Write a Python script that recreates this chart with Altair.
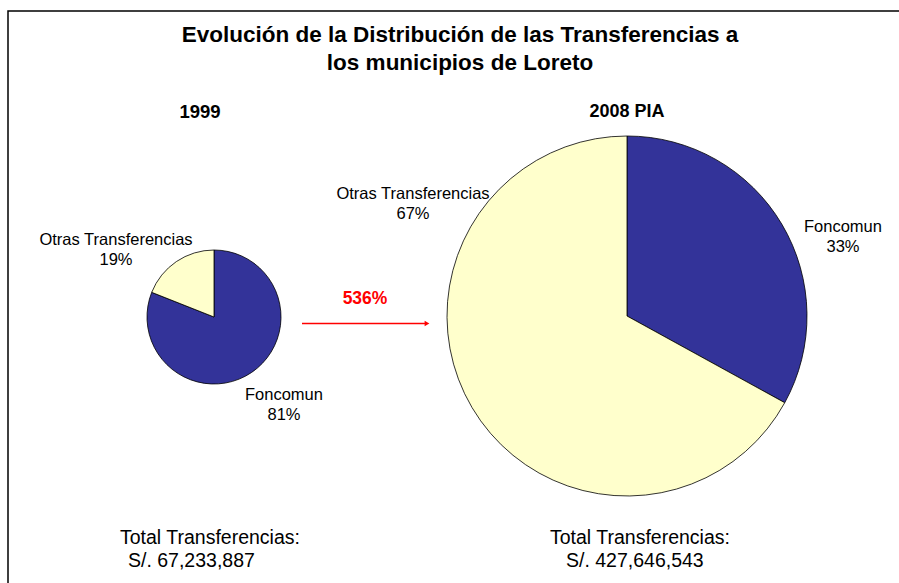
import altair as alt
import pandas as pd

# ---- data ----
categorias = ["Foncomun", "Otras Transferencias"]
orden = [1, 2]
pct_1999 = [81, 19]
pct_2008 = [33, 67]
anios = ["1999", "2008 PIA"]
totales = [67233887, 427646543]
colores = ["#333399", "#FFFFCC"]

titulo = ["Evolución de la Distribución de las Transferencias a", "los municipios de Loreto"]

FONT = "Liberation Sans"

df1 = pd.DataFrame({"cat": categorias, "pct": pct_1999, "ord": orden})
df2 = pd.DataFrame({"cat": categorias, "pct": pct_2008, "ord": orden})
df1["lab"] = df1["cat"] + "\n" + df1["pct"].astype(str) + "%"
df2["lab"] = df2["cat"] + "\n" + df2["pct"].astype(str) + "%"

color_scale = alt.Scale(domain=categorias, range=colores)


def pie(df, cx, cy, r):
    return alt.Chart(df).mark_arc(radius=r, stroke="black", strokeWidth=0.8).encode(
        theta=alt.Theta("pct:Q", stack=True),
        color=alt.Color("cat:N", scale=color_scale, legend=None),
        order=alt.Order("ord:Q"),
        x=alt.value(cx),
        y=alt.value(cy),
    )


def label(df, cat, x, y):
    return alt.Chart(df).transform_filter(alt.datum.cat == cat).mark_text(
        font=FONT, fontSize=16.5, align="center", baseline="alphabetic",
        lineBreak="\n", lineHeight=20, color="black"
    ).encode(text="lab:N", x=alt.value(x), y=alt.value(y))


def text(s, x, y, size, bold=False, color="black", align="center"):
    return alt.Chart(pd.DataFrame({"t": [s]})).mark_text(
        font=FONT, fontSize=size, fontWeight="bold" if bold else "normal",
        align=align, baseline="alphabetic", color=color
    ).encode(text="t:N", x=alt.value(x), y=alt.value(y))


border = alt.Chart(pd.DataFrame({"a": [0]})).mark_rect(
    fill=None, stroke="black", strokeWidth=1.5
).encode(x=alt.value(8), x2=alt.value(960), y=alt.value(11), y2=alt.value(640))

arrow_line = alt.Chart(pd.DataFrame({"a": [0]})).mark_rule(
    color="red", strokeWidth=1.5
).encode(x=alt.value(302), x2=alt.value(426), y=alt.value(323.5))
arrow_head = alt.Chart(pd.DataFrame({"a": [0]})).mark_point(
    shape="triangle-right", filled=True, color="red", size=30, opacity=1
).encode(x=alt.value(427), y=alt.value(323.5))

crec = round((totales[1] / totales[0] - 1) * 100)

def fmt(v):
    return "S/. " + f"{v:,}"

layers = [
    border,
    pie(df1, 214, 317, 67),
    pie(df2, 627, 316, 180),
    label(df1, "Otras Transferencias", 116, 245),
    label(df1, "Foncomun", 284, 400),
    label(df2, "Otras Transferencias", 413, 199),
    label(df2, "Foncomun", 843, 232),
    text(titulo[0], 460, 42, 22.5, bold=True),
    text(titulo[1], 460, 70, 22.5, bold=True),
    text(anios[0], 200, 118, 18.5, bold=True),
    text(anios[1], 627, 117, 18, bold=True),
    text(f"{crec}%", 365, 304, 17.5, bold=True, color="red"),
    arrow_line,
    arrow_head,
    text("Total Transferencias:", 120, 544, 19.5, align="left"),
    text(fmt(totales[0]), 128, 567, 19.5, align="left"),
    text("Total Transferencias:", 550, 544, 19.5, align="left"),
    text(fmt(totales[1]), 566, 567, 19.5, align="left"),
]

chart = alt.layer(*layers).resolve_scale(theta="independent").properties(
    width=899, height=583, padding=0,
    autosize=alt.AutoSizeParams(type="none"),
    background="white",
).configure_view(stroke=None)

chart.save("out.html", embed_options={"renderer": "svg", "actions": False})
